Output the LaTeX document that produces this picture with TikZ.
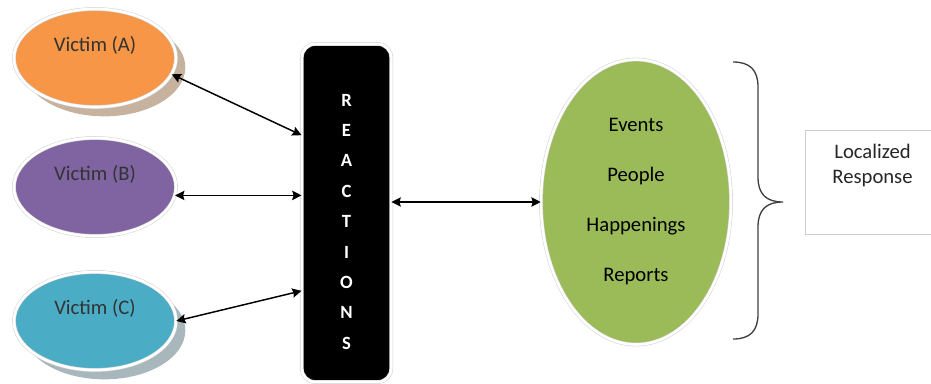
\documentclass[tikz,border=0pt]{standalone}
\usepackage{fontspec}
\setmainfont{Carlito}
\usepackage{tikz}
\usetikzlibrary{arrows.meta,positioning,shapes.geometric,shadows}
\usepackage{xcolor}
\definecolor{vorange}{HTML}{F79646}
\definecolor{vpurple}{HTML}{8064A2}
\definecolor{vblue}{HTML}{4BACC6}
\definecolor{vgreen}{HTML}{9BBB59}
\definecolor{shadeA}{HTML}{C6B29E}
\definecolor{shadeC}{HTML}{A8B7BC}

\begin{document}
\begin{tikzpicture}[
  x=0.75pt, y=-0.75pt,
  ring/.style={draw=gray!35, double=white, double distance=2pt},
  victim/.style={ellipse, ring, minimum width=121.5pt, minimum height=73.5pt, inner sep=0pt,
    font=\fontsize{15.5}{18}\selectfont, text=black!80, text height=12pt, text depth=22pt},
  reactbox/.style={rectangle, ring, rounded corners=10pt, fill=black, minimum width=67pt, minimum height=253.5pt},
  rletter/.style={font=\fontsize{14}{16}\selectfont\bfseries, text=white, inner sep=0pt},
  newsbox/.style={ellipse, ring, fill=vgreen, minimum width=142.5pt, minimum height=213.75pt, inner sep=0pt,
    align=center, font=\fontsize{15.5}{37.5}\selectfont},
  respbox/.style={rectangle, draw=gray!40, line width=0.8pt, minimum width=101pt, minimum height=78.5pt},
  resptext/.style={align=center, inner sep=0pt, font=\fontsize{15.5}{18.75}\selectfont, text=black!85},
  arr/.style={{Stealth[length=7pt,width=7pt,inset=1pt]}-{Stealth[length=7pt,width=7pt,inset=1pt]}, line width=1.1pt},
]
\useasboundingbox (0,0) rectangle (931,383);

\node[victim, fill=vorange, drop shadow={shadow xshift=7pt, shadow yshift=-7pt, fill=shadeA, opacity=1}] (va) at (95,58) {Victim (A)};
\node[victim, fill=vpurple] (vb) at (95,187) {Victim (B)};
\node[victim, fill=vblue, drop shadow={shadow xshift=7pt, shadow yshift=-7pt, fill=shadeC, opacity=1}] (vc) at (95,321) {Victim (C)};

\node[reactbox] (react) at (346.5,213) {};
\foreach \l [count=\i] in {R,E,A,C,T,I,O,N,S}
  \node[rletter] (r\i) at (346.5,69.6+30.4*\i) {\l};

\node[newsbox] (news) at (636,202) {Events\\People\\Happenings\\Reports};

\node[respbox] (resp) at (872.5,182.5) {};
\node[resptext, below=10.5pt of resp.north] (resptxt) {Localized\\Response};

\draw[arr] (va.-12) -- (react.120);
\draw[arr] (vb.-6) -- (react.west |- vb.-6);
\draw[arr] (vc.east) -- (react.240);
\draw[arr] (react.east |- news.west) -- (news.west);

% brace round the news items
\draw[black!75, line width=1pt]
  (733,62) .. controls (750,62) and (758,70) .. (758,87) -- (758,177)
  .. controls (758,194) and (766,202) .. (783,202)
  .. controls (766,202) and (758,210) .. (758,227) -- (758,314)
  .. controls (758,331) and (750,339) .. (733,339);
\end{tikzpicture}
\end{document}
